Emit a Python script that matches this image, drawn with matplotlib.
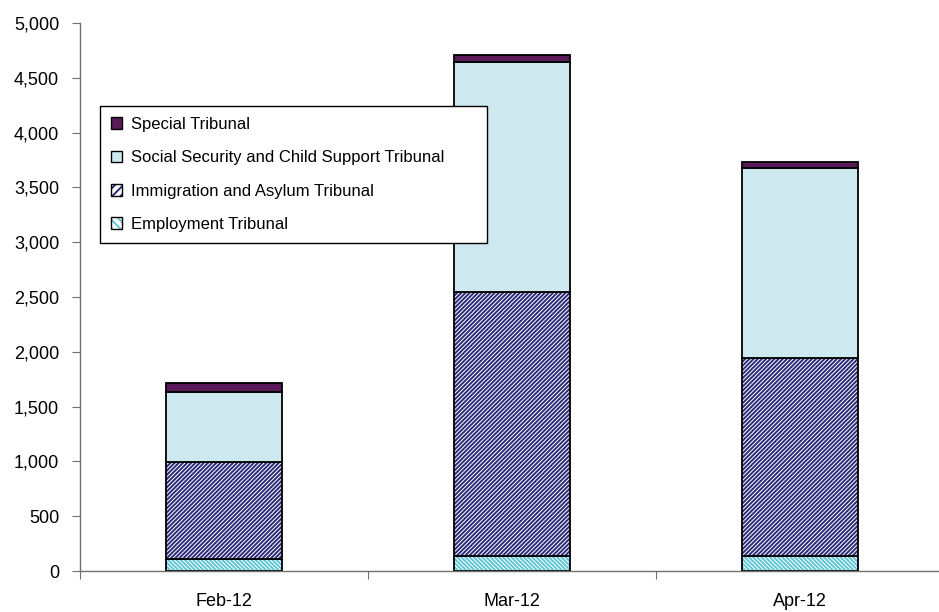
import matplotlib.pyplot as plt
from matplotlib.patches import Patch
from matplotlib.ticker import FuncFormatter

# Data
months = ['Feb-12', 'Mar-12', 'Apr-12']
employment = [110, 137, 137]
immigration = [885, 2408, 1806]
social_security = [638, 2099, 1734]
special = [82, 64, 55]

series = [
    ('Employment Tribunal', employment, 'white', '#5fc6d6', '\\' * 8),
    ('Immigration and Asylum Tribunal', immigration, 'white', '#2a2a78', '/' * 8),
    ('Social Security and Child Support Tribunal', social_security, '#cde9ef', None, None),
    ('Special Tribunal', special, '#5a1a5a', None, None),
]

plt.rcParams['font.family'] = ['Liberation Sans', 'DejaVu Sans']
plt.rcParams['hatch.linewidth'] = 1.4

fig = plt.figure(figsize=(9.39, 6.12), dpi=100)
ax = fig.add_axes([80 / 939, 1 - 571 / 612, 864 / 939, 548 / 612])

x = list(range(len(months)))
width = 0.40
bottom = [0] * len(months)
handles = []
for name, vals, face, hcol, hatch in series:
    if hatch:
        ax.bar(x, vals, width, bottom=bottom, facecolor=face, edgecolor=hcol,
               hatch=hatch, linewidth=0)
        ax.bar(x, vals, width, bottom=bottom, facecolor='none',
               edgecolor='black', linewidth=1.3)
        h = (Patch(facecolor=face, edgecolor=hcol, hatch=hatch[:4], linewidth=0),
             Patch(facecolor='none', edgecolor='black', linewidth=1.0))
    else:
        ax.bar(x, vals, width, bottom=bottom, facecolor=face,
               edgecolor='black', linewidth=1.3)
        h = Patch(facecolor=face, edgecolor='black', linewidth=1.0)
    handles.append((h, name))
    bottom = [b + v for b, v in zip(bottom, vals)]

ax.set_xlim(-0.5, 2.5)
ax.set_ylim(0, 5000)
ax.set_yticks(range(0, 5001, 500))
ax.yaxis.set_major_formatter(FuncFormatter(lambda v, p: f'{int(v):,}'))

# category boundaries as tick marks, labels centred under bars
ax.set_xticks([-0.5, 0.5, 1.5, 2.5])
ax.set_xticklabels([])
ax.set_xticks(x, minor=True)
ax.set_xticklabels(months, minor=True)
ax.tick_params(axis='x', which='minor', length=0, pad=16, labelsize=13)
ax.tick_params(axis='x', which='major', length=6, color='#707070')
ax.tick_params(axis='y', length=6, pad=9, labelsize=13, color='#707070')

for side in ['top', 'right']:
    ax.spines[side].set_visible(False)
for side in ['left', 'bottom']:
    ax.spines[side].set_color('#707070')
    ax.spines[side].set_linewidth(1.0)

handles = handles[::-1]
leg = ax.legend([h for h, n in handles], [n for h, n in handles],
                loc='upper left', bbox_to_anchor=(0.023, 0.60, 0.448, 0.2485),
                mode='expand', fontsize=12, frameon=True, fancybox=False,
                framealpha=1, edgecolor='black', handlelength=0.7,
                handleheight=0.7, handletextpad=0.5, labelspacing=1.1,
                borderpad=0.65, borderaxespad=0)
leg.get_frame().set_linewidth(1.0)

fig.savefig('out.png', dpi=100)
